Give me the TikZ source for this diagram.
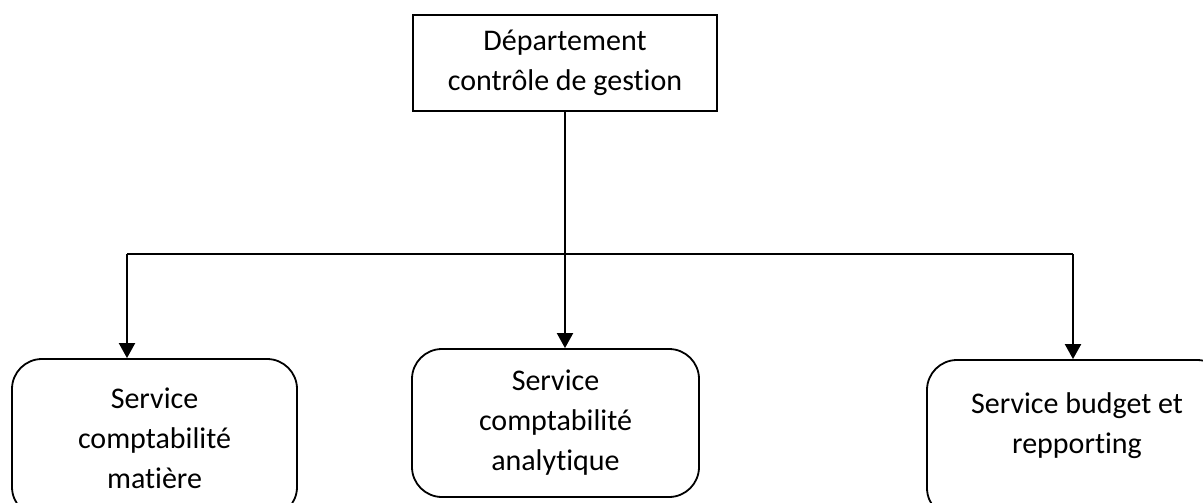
\documentclass[tikz,border=0pt]{standalone}
\usepackage{fontspec}
\setmainfont{Carlito}[RawFeature=-liga]
\usetikzlibrary{arrows.meta}
\begin{document}
\begin{tikzpicture}[x=1pt,y=-1pt,
  every node/.style={font=\fontsize{30}{40}\selectfont, align=center, inner sep=0pt},
  headbox/.style={draw, line width=2pt, minimum width=304pt, minimum height=96pt},
  unitbox/.style={draw, line width=1.8pt, rounded corners=30pt, minimum height=158pt},
  link/.style={line width=2pt},
  arrow/.style={link, -{Triangle[length=15pt,width=16pt]}}]
  \useasboundingbox (0,0) rectangle (1203,503);
  \clip (0,0) rectangle (1203,503);

  % head of the department
  \node[headbox] (top) at (565,63) {Département\\contrôle de gestion};

  % the three services
  \node[unitbox, minimum width=285pt] (left) at (154.5,438)
    {Service\\comptabilité\\matière};
  \node[unitbox, minimum width=287pt, minimum height=148pt] (mid) at (555.5,423)
    {Service\\comptabilité\\analytique};
  \node[unitbox, minimum width=300pt] (right) at (1077,439)
    {Service budget et\\repporting\\[-8pt]\mbox{}};

  % distribution bar
  \coordinate (jl) at (127,254);
  \coordinate (jr) at (1073,254);
  \draw[link] (jl) -- (jr);

  % connectors
  \draw[arrow] (top.south) -- (top.south |- mid.north);
  \draw[arrow] (jl) -- (jl |- left.north);
  \draw[arrow] (jr) -- (jr |- right.north);
\end{tikzpicture}
\end{document}
